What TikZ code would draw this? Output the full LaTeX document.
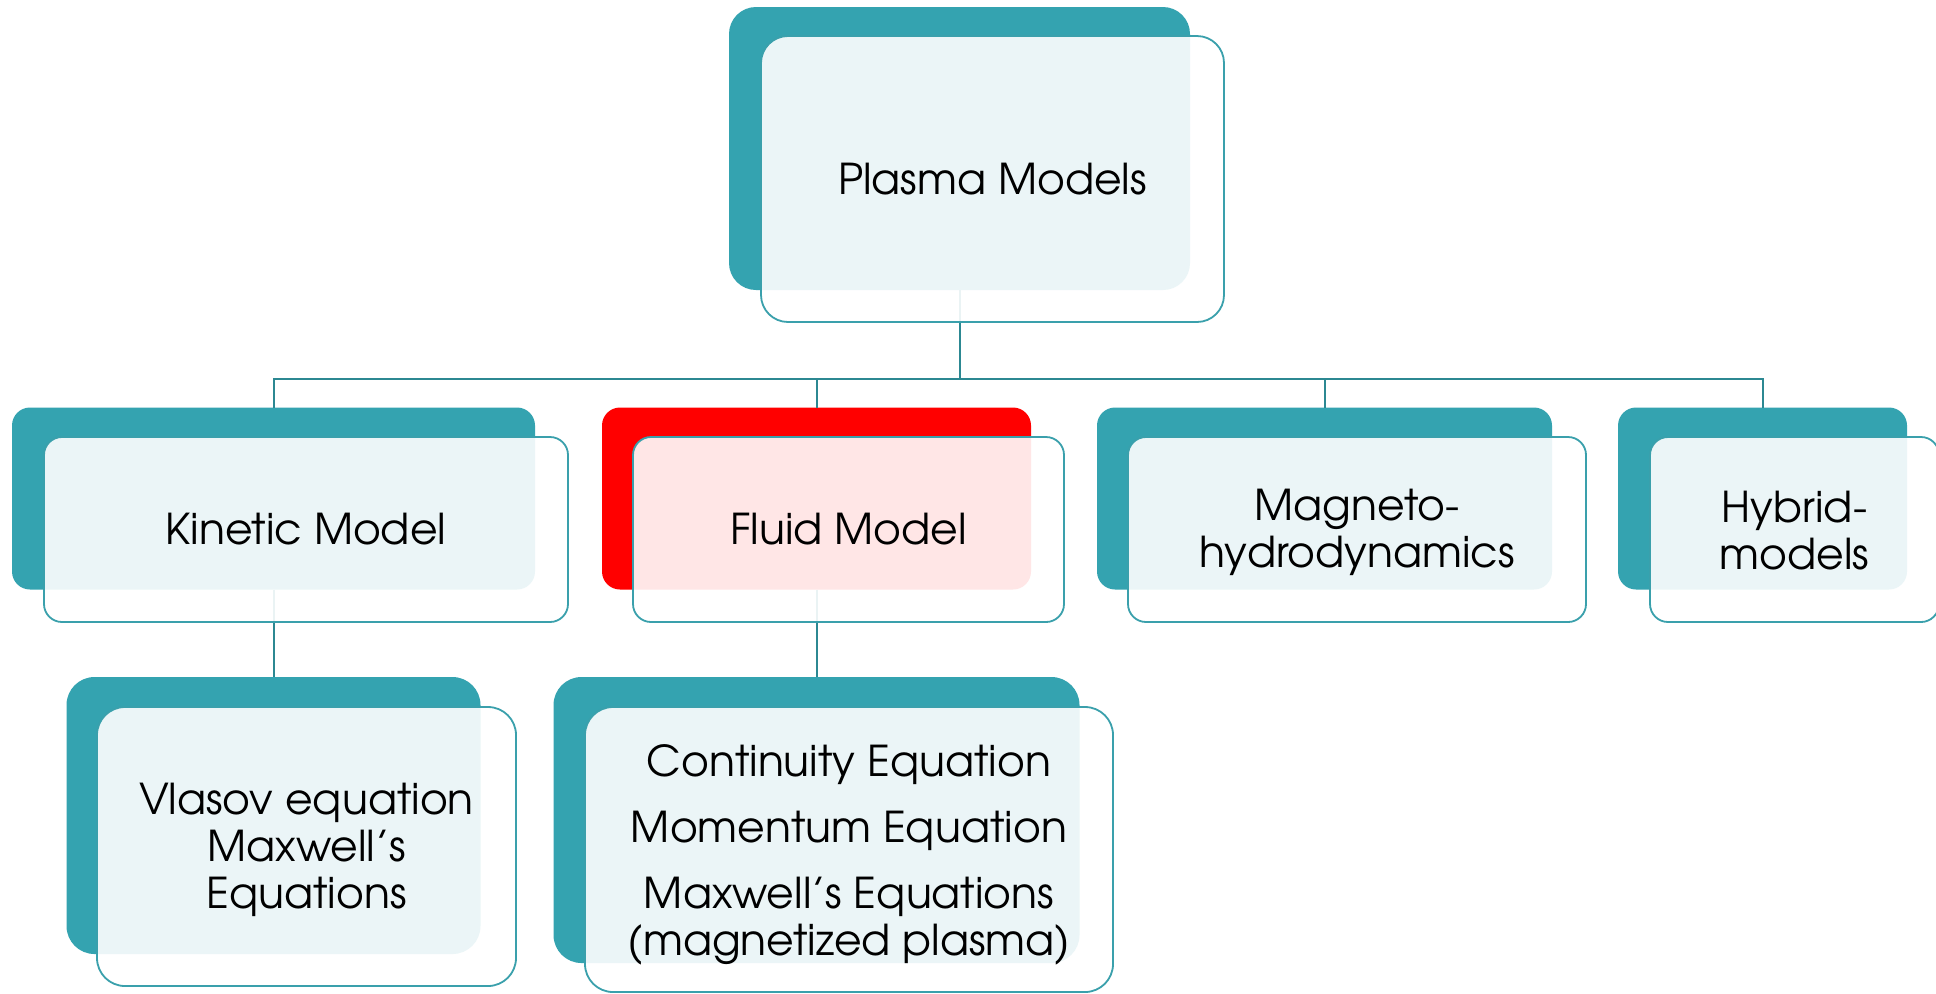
\documentclass[tikz,border=0pt]{standalone}
\usepackage{fontspec}
\IfFontExistsTF{texgyreadventor-regular.otf}{\setmainfont{texgyreadventor-regular.otf}}{\setmainfont{Poppins}}
\definecolor{tealback}{RGB}{52,163,176}
\definecolor{connteal}{RGB}{44,136,146}
\definecolor{frontline}{RGB}{58,160,172}
\begin{document}
\begin{tikzpicture}[x=0.5pt,y=-0.5pt,
  backbox/.style={draw=none, fill=tealback, inner sep=0pt, outer sep=0pt},
  frontbox/.style={draw=frontline, line width=0.9pt, fill=white, fill opacity=0.9, inner sep=0pt, outer sep=0pt},
  boxtext/.style={inner sep=0pt, align=center, font=\fontsize{21.25}{23.5}\selectfont, text=black},
  conn/.style={draw=connteal, line width=1pt}]
\fill[white] (0,0) rectangle (1936,993);
\useasboundingbox (0,0) rectangle (1936,993);
% back boxes
\node[backbox, minimum width=230.5pt, minimum height=141.5pt, rounded corners=13.5pt] (topB) at (959.5,148.5) {};
\node[backbox, minimum width=261.5pt, minimum height=91pt, rounded corners=9pt] (kinB) at (273.5,498.5) {};
\node[backbox, fill=red, minimum width=214.5pt, minimum height=91pt, rounded corners=9pt] (fluB) at (816.5,498.5) {};
\node[backbox, minimum width=227.5pt, minimum height=91pt, rounded corners=9pt] (mhdB) at (1324.5,498.5) {};
\node[backbox, minimum width=144.5pt, minimum height=91pt, rounded corners=9pt] (hybB) at (1762.5,498.5) {};
\node[backbox, minimum width=207pt, minimum height=138.5pt, rounded corners=14pt] (vlaB) at (273.5,815.5) {};
\node[backbox, minimum width=263pt, minimum height=143pt, rounded corners=14pt] (feqB) at (816.5,820) {};
% connectors
\coordinate (bus) at (959.5,379);
\draw[conn] (topB.south) -- (bus) -| (kinB.north);
\draw[conn] (bus) -| (fluB.north);
\draw[conn] (bus) -| (mhdB.north);
\draw[conn] (bus) -| (hybB.north);
\draw[conn] (kinB.south) -- (vlaB.north);
\draw[conn] (fluB.south) -- (feqB.north);
% front boxes
\node[frontbox, minimum width=231.5pt, minimum height=143pt, rounded corners=13.5pt] (topF) at (992.5,179) {};
\node[frontbox, minimum width=262pt, minimum height=92.5pt, rounded corners=9pt] (kinF) at (306,529.5) {};
\node[frontbox, minimum width=215.5pt, minimum height=92.5pt, rounded corners=9pt] (fluF) at (848.5,529.5) {};
\node[frontbox, minimum width=229pt, minimum height=92.5pt, rounded corners=9pt] (mhdF) at (1357,529.5) {};
\node[frontbox, minimum width=144.5pt, minimum height=92.5pt, rounded corners=9pt] (hybF) at (1794.5,529.5) {};
\node[frontbox, minimum width=209.5pt, minimum height=139.5pt, rounded corners=14pt] (vlaF) at (306.5,846.5) {};
\node[frontbox, minimum width=264pt, minimum height=142.5pt, rounded corners=14pt] (feqF) at (849,849.5) {};
% texts
\node[boxtext] (topT) at (topF.center) {Plasma Models};
\node[boxtext] (kinT) at (kinF.center) {Kinetic Model};
\node[boxtext] (fluT) at (fluF.center) {Fluid Model};
\node[boxtext, yshift=-1.5pt] (mhdT) at (mhdF.center) {Magneto-\\hydrodynamics};
\node[boxtext, yshift=-0.3pt] (hybT) at (hybF.center) {Hybrid-\\models};
\node[boxtext, yshift=-1.9pt] (vlaT) at (vlaF.center) {Vlasov equation\\Maxwell’s\\Equations};
\node[boxtext, yshift=-2.5pt] (feqT) at (feqF.center) {Continuity Equation\\[9.5pt]Momentum Equation\\[9.5pt]Maxwell’s Equations\\(magnetized plasma)};
\end{tikzpicture}
\end{document}
